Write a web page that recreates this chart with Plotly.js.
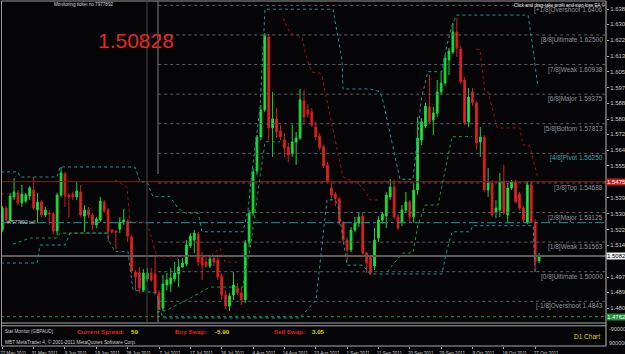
<!DOCTYPE html>
<html>
<head>
<meta charset="utf-8">
<script src="https://cdn.plot.ly/plotly-3.0.1.min.js"></script>
<style>
html,body{margin:0;padding:0;background:#050507;overflow:hidden;}
#chart{width:625px;height:354px;}
</style>
</head>
<body>
<div id="chart"></div>
<script>
// ---------------- DATA ----------------
const dateLabels = ['22 May 2011','31 May 2011','9 Jun 2011','19 Jun 2011','28 Jun 2011','7 Jul 2011','17 Jul 2011','26 Jul 2011','4 Aug 2011','14 Aug 2011','23 Aug 2011','1 Sep 2011','11 Sep 2011','20 Sep 2011','29 Sep 2011','9 Oct 2011','18 Oct 2011','27 Oct 2011'];
const barsPerLabel = 8;

const opens = [1.5220,1.5336,1.5273,1.5395,1.5416,1.5363,1.5373,1.5400,1.5431,1.5326,
1.5368,1.5299,1.5310,1.5305,1.5215,1.5405,1.5516,1.5405,1.5410,1.5395,
1.5421,1.5294,1.5326,1.5299,1.5247,1.5273,1.5368,1.5326,1.5220,1.5215,
1.5225,1.5262,1.5268,1.5183,1.4998,1.4993,1.4903,1.4962,1.4993,1.4988,
1.4888,1.4808,1.4930,1.4935,1.4962,1.4988,1.5025,1.5041,1.5136,1.5167,
1.5199,1.5078,1.5051,1.5030,1.5072,1.5062,1.4977,1.4877,1.4819,1.4877,
1.4914,1.4888,1.4851,1.5152,1.5310,1.5532,1.5711,1.5854,1.6239,1.5759,
1.5806,1.5743,1.5695,1.5659,1.5622,1.5685,1.5706,1.5901,1.5854,1.5843,
1.5764,1.5716,1.5659,1.5564,1.5442,1.5410,1.5384,1.5257,1.5167,1.5115,
1.5220,1.5257,1.5294,1.5099,1.5078,1.5030,1.5178,1.5273,1.5294,1.5395,
1.5447,1.5289,1.5262,1.5326,1.5368,1.5289,1.5431,1.5695,1.5769,1.5870,
1.5801,1.5838,1.5949,1.5996,1.6118,1.6160,1.6266,1.6176,1.6012,1.5791,
1.5949,1.5891,1.5685,1.5711,1.5431,1.5468,1.5315,1.5326,1.5479,1.5299,
1.5442,1.5474,1.5410,1.5336,1.5262,1.5458,1.5262,1.5057];
const highs = [1.5347,1.5347,1.5416,1.5495,1.5431,1.5458,1.5416,1.5453,1.5500,1.5416,
1.5379,1.5342,1.5326,1.5315,1.5416,1.5553,1.5527,1.5416,1.5421,1.5474,
1.5458,1.5352,1.5342,1.5310,1.5289,1.5395,1.5379,1.5336,1.5225,1.5220,
1.5289,1.5331,1.5278,1.5194,1.5009,1.5025,1.5014,1.5020,1.5020,1.5078,
1.4903,1.4983,1.4993,1.5020,1.5051,1.5067,1.5072,1.5167,1.5204,1.5220,
1.5210,1.5104,1.5083,1.5078,1.5088,1.5078,1.4993,1.4903,1.4888,1.4998,
1.4940,1.4919,1.5167,1.5326,1.5548,1.5722,1.5880,1.6260,1.6255,1.5949,
1.5864,1.5775,1.5732,1.5680,1.5775,1.5738,1.5965,1.5959,1.5885,1.5864,
1.5791,1.5732,1.5669,1.5579,1.5474,1.5421,1.5395,1.5268,1.5183,1.5236,
1.5289,1.5315,1.5310,1.5104,1.5088,1.5231,1.5294,1.5315,1.5421,1.5490,
1.5484,1.5305,1.5352,1.5421,1.5379,1.5468,1.5817,1.5812,1.5891,1.6039,
1.5870,1.6012,1.6054,1.6144,1.6181,1.6313,1.6340,1.6192,1.6028,1.5970,
1.5970,1.5901,1.5764,1.5722,1.5548,1.5484,1.5379,1.5521,1.5564,1.5468,
1.5484,1.5484,1.5421,1.5347,1.5474,1.5474,1.5278,1.5099];
const lows = [1.5210,1.5262,1.5257,1.5379,1.5352,1.5342,1.5363,1.5379,1.5326,1.5257,
1.5289,1.5289,1.5247,1.5199,1.5194,1.5395,1.5342,1.5284,1.5379,1.5379,
1.5289,1.5210,1.5284,1.5220,1.5231,1.5262,1.5310,1.5157,1.5204,1.5120,
1.5204,1.5247,1.5157,1.4988,1.4903,1.4888,1.4893,1.4946,1.4946,1.4877,
1.4798,1.4793,1.4903,1.4893,1.4946,1.4919,1.5020,1.5030,1.5125,1.5099,
1.5030,1.4956,1.5020,1.5020,1.5030,1.4956,1.4851,1.4803,1.4793,1.4851,
1.4877,1.4824,1.4835,1.5130,1.5294,1.5511,1.5695,1.5843,1.5695,1.5606,
1.5706,1.5695,1.5606,1.5579,1.5606,1.5564,1.5695,1.5775,1.5812,1.5764,
1.5695,1.5643,1.5548,1.5468,1.5379,1.5347,1.5247,1.5157,1.5046,1.5104,
1.5210,1.5236,1.5088,1.4993,1.4983,1.5009,1.5157,1.5252,1.5231,1.5379,
1.5278,1.5220,1.5241,1.5310,1.5257,1.5257,1.5405,1.5669,1.5759,1.5785,
1.5722,1.5817,1.5933,1.5981,1.6039,1.6149,1.6134,1.5991,1.5775,1.5764,
1.5875,1.5643,1.5606,1.5421,1.5395,1.5289,1.5284,1.5289,1.5299,1.5257,
1.5431,1.5363,1.5326,1.5262,1.5252,1.5257,1.4998,1.5046];
const closes = [1.5336,1.5273,1.5400,1.5421,1.5363,1.5410,1.5405,1.5442,1.5336,1.5368,
1.5299,1.5326,1.5305,1.5215,1.5405,1.5521,1.5400,1.5395,1.5395,1.5426,
1.5299,1.5326,1.5299,1.5247,1.5278,1.5373,1.5321,1.5215,1.5210,1.5210,
1.5262,1.5273,1.5188,1.5004,1.4972,1.4914,1.4993,1.4993,1.4956,1.4888,
1.4808,1.4935,1.4956,1.4967,1.4993,1.5025,1.5046,1.5141,1.5188,1.5204,
1.5051,1.5035,1.5030,1.5067,1.5051,1.4972,1.4877,1.4819,1.4872,1.4930,
1.4888,1.4851,1.5152,1.5310,1.5527,1.5711,1.5854,1.6245,1.5759,1.5806,
1.5738,1.5711,1.5653,1.5616,1.5685,1.5706,1.5907,1.5817,1.5833,1.5775,
1.5711,1.5653,1.5558,1.5474,1.5405,1.5384,1.5257,1.5167,1.5115,1.5220,
1.5257,1.5289,1.5099,1.5046,1.4993,1.5167,1.5273,1.5305,1.5405,1.5447,
1.5289,1.5231,1.5326,1.5368,1.5289,1.5431,1.5706,1.5791,1.5875,1.5791,
1.5838,1.5949,1.5996,1.6128,1.6165,1.6266,1.6181,1.6002,1.5785,1.5922,
1.5891,1.5680,1.5711,1.5431,1.5468,1.5299,1.5336,1.5474,1.5310,1.5442,
1.5474,1.5368,1.5336,1.5273,1.5458,1.5262,1.5051,1.50828];

const currentPrice = 1.50828;
const sellOpenPrice = 1.52588;
const redLevel = 1.54752;
const greenLevel = 1.47624;

// Murrey math levels
const murreyLevels = [1.640625,1.625,1.609375,1.59375,1.578125,1.5625,1.546875,1.53125,1.515625,1.5,1.484375];
const murreyLabels = ['[+1/8]Overshoot 1.6406','[8/8]Ultimate 1.62500','[7/8]Weak 1.60938','[6/8]Major 1.59375','[5/8]Bottom 1.57813','[4/8]Pivot 1.56250','[3/8]Top 1.54688','[2/8]Major 1.53125','[1/8]Weak 1.51563','[0/8]Ultimate 1.50000','[-1/8]Overshoot 1.4843'];
const murreyStartBar = 39.8;

// price scale labels
const priceTicks = [1.63860,1.63060,1.62230,1.61380,1.60550,1.59730,1.58890,1.58060,1.57250,1.56410,1.55590,1.53910,1.53060,1.52230,1.51410,1.49720,1.48910,1.48080];

// indicator lines (bar index, price); null breaks a line
const upperBandX = [-0.33,4.01,4.52,13.96,14.73,33.87,35.15,36.93,38.46,42.8,44.84,46.63,49.95,50.97,61.43,62.71,63.73,64.75,65.77,66.79,67.05,84.4,86.7,86.95,93.85,96.4,97.17,101.5,104.8,105.8,106.9,108.6,112.2,113.5,114.8,116.0,134.2,135.5,136.7];
const upperBandY = [1.5527,1.5527,1.5500,1.5500,1.5553,1.5553,1.5475,1.5474,1.5396,1.5396,1.5336,1.5310,1.5310,1.5211,1.5211,1.5326,1.5527,1.5695,1.5864,1.6276,1.6386,1.6386,1.6118,1.5965,1.5965,1.5950,1.5901,1.5488,1.5488,1.5669,1.5907,1.6056,1.6056,1.6197,1.6303,1.6355,1.6355,1.6171,1.5975];
const lowerBandX = [-0.33,8.86,9.62,16.0,17.28,26.72,27.49,28.76,32.08,33.36,39.48,40.25,41.02,75.98,80.07,82.87,84.9,85.68,87.98,91.81,93.08,93.85,112.2,113.5,114.8,119.4,120.1,135.5,136.0,137.0];
const lowerBandY = [1.5046,1.5046,1.5141,1.5141,1.5204,1.5204,1.5152,1.5106,1.5106,1.4903,1.4888,1.4798,1.4756,1.4756,1.4851,1.5379,1.5379,1.5352,1.5035,1.5035,1.5009,1.4988,1.4988,1.5115,1.5211,1.5211,1.5243,1.5243,1.5000,1.5000];
const redStopX = [-0.33,1.45,null,28.76,31.83,32.59,36.93,39.48,53.01,55.56,56.84,60.67,null,71.64,73.43,76.49,77.77,79.04,81.09,81.6,86.95,90.53,92.06,93.85,96.4,null,120.9,121.9,123.2,124.0,126.3,132.1,132.9,134.7,135.5,136.7];
const redStopY = [1.5410,1.5410,null,1.5484,1.5447,1.5264,1.5261,1.5079,1.5079,1.5125,1.5051,1.5051,null,1.6340,1.6260,1.6239,1.6118,1.6054,1.6049,1.6030,1.5500,1.5468,1.5442,1.5379,1.5379,null,1.6176,1.6171,1.5949,1.5949,1.5759,1.5759,1.5669,1.5664,1.5590,1.5495];
const greenStopX = [2.73,5.79,7.07,13.96,14.73,27.99,null,39.48,41.53,47.14,53.01,61.43,62.0,63.22,65.26,67.05,70.88,null,98.19,100.2,102.3,104.8,106.1,107.9,111.2,113.0,114.8,119.9];
const greenStopY = [1.5146,1.5167,1.5178,1.5178,1.5204,1.5204,null,1.4787,1.4793,1.4851,1.4919,1.4919,1.5009,1.5115,1.5431,1.5686,1.5686,null,1.4998,1.5051,1.5099,1.5099,1.5247,1.5352,1.5352,1.5537,1.5713,1.5713];

const separatorBars = [36.93, 39.74];

// ---------------- LAYOUT HELPERS ----------------
const W = 625, H = 354;
const M = {l:1, r:19, t:1, b:8};
const PW = W - M.l - M.r, PH = H - M.t - M.b;
const fx = px => (px - M.l) / PW;
const fy = py => (H - M.b - py) / PH;
const xRange = [-0.33, 154.08];
const yRange = [1.47318, 1.64293];
const FONT = 'Liberation Sans, Arial, sans-serif';

const barIndex = opens.map((_, i) => i);
const tickBars = dateLabels.map((_, k) => k * barsPerLabel);

function hline(val, color, dash, width, x0) {
  return {type:'scatter', mode:'lines', x:[x0 === undefined ? xRange[0] : x0, xRange[1]], y:[val, val],
    line:{color:color, dash:dash, width:width}, hoverinfo:'skip', xaxis:'x', yaxis:'y'};
}

const traces = [];
// murrey dotted lines
const mx = [], my = [];
murreyLevels.forEach(v => { mx.push(murreyStartBar, xRange[1], null); my.push(v, v, null); });
traces.push({type:'scatter', mode:'lines', x:mx, y:my, line:{color:'#5d6166', dash:'dot', width:1}, hoverinfo:'skip', xaxis:'x', yaxis:'y'});
// order / level lines
traces.push(hline(redLevel, '#8e1c1c', 'solid', 1));
traces.push(hline(sellOpenPrice, '#1c9a9a', 'dashdot', 1));
traces.push(hline(greenLevel, '#1b9a47', 'dot', 1));
traces.push(hline(currentPrice, '#5c5c5c', 'solid', 2));
// indicator lines
traces.push({type:'scatter', mode:'lines', x:upperBandX, y:upperBandY, line:{color:'#1a9696', dash:'dot', width:1}, hoverinfo:'skip', xaxis:'x', yaxis:'y'});
traces.push({type:'scatter', mode:'lines', x:lowerBandX, y:lowerBandY, line:{color:'#1a9696', dash:'dot', width:1}, hoverinfo:'skip', xaxis:'x', yaxis:'y'});
traces.push({type:'scatter', mode:'lines', x:redStopX, y:redStopY, line:{color:'#9a1414', dash:'dot', width:1}, hoverinfo:'skip', connectgaps:false, xaxis:'x', yaxis:'y'});
traces.push({type:'scatter', mode:'lines', x:greenStopX, y:greenStopY, line:{color:'#179a3c', dash:'dot', width:1}, hoverinfo:'skip', connectgaps:false, xaxis:'x', yaxis:'y'});
// candles
traces.push({type:'candlestick', x:barIndex, open:opens, high:highs, low:lows, close:closes,
  increasing:{line:{color:'#14d83a', width:1}, fillcolor:'#1ee844'},
  decreasing:{line:{color:'#d41c1c', width:1}, fillcolor:'#e82323'},
  whiskerwidth:0, hoverinfo:'skip', xaxis:'x', yaxis:'y'});
// dummy trace for panel axis
traces.push({type:'scatter', mode:'lines', x:[xRange[0]], y:[0], line:{width:0}, hoverinfo:'skip', xaxis:'x', yaxis:'y2'});

const ann = [];
function txt(text, px, py, size, color, anchor, extra) {
  ann.push(Object.assign({xref:'paper', yref:'paper', x:fx(px), y:fy(py), text:text, showarrow:false,
    xanchor:anchor || 'left', yanchor:'middle', font:{family:FONT, size:size, color:color}}, extra || {}));
}
txt('Monitoring ticket no 7977892', 52, 4.5, 4.6, '#d4d4d4');
txt('Click and drag take profit and stop loss EA ©', 512, 5, 4.6, '#e6e6e6');
txt(currentPrice.toFixed(5), 136, 40, 21, '#ea2626', 'center');
txt('#7977892 sell', 5, 222.5, 4.6, '#cfcfcf');
murreyLevels.forEach((v, i) => {
  ann.push({xref:'paper', yref:'y', x:fx(605), y:v, yshift:-5, text:murreyLabels[i], showarrow:false,
    xanchor:'right', yanchor:'middle', font:{family:FONT, size:6.5, color: i === 5 ? '#35a9a9' : '#8e9399'}});
});
// price boxes on scale
function box(val, text, bg, fg) {
  ann.push({xref:'paper', yref:'y', x:fx(606), y:val, text:text, showarrow:false, xanchor:'left', yanchor:'middle',
    bgcolor:bg, borderpad:0, font:{family:FONT, size:6, color:fg}});
}
box(redLevel, redLevel.toFixed(5), '#c81e1e', '#ffffff');
box(currentPrice, currentPrice.toFixed(5), '#f0f0f0', '#000000');
box(greenLevel, greenLevel.toFixed(5), '#1f8f35', '#ffffff');
// bottom panel
txt('Stat Monitor (GBPAUD)', 3, 331.5, 4.6, '#d0d0d0');
txt('<b>Current Spread:</b>', 75, 331.5, 6.2, '#e0201c');
txt('<b>59</b>', 129, 331.5, 6.2, '#d8d800');
txt('<b>Buy Swap:</b>', 173, 331.5, 6.2, '#e0201c');
txt('<b>-5.90</b>', 213, 331.5, 6.2, '#d8d800');
txt('<b>Sell Swap:</b>', 272, 331.5, 6.2, '#e0201c');
txt('<b>3.05</b>', 310, 331.5, 6.2, '#d8d800');
txt('MBT MetaTrader 4, © 2001-2011 MetaQuotes Software Corp.', 3, 342, 4.8, '#d0d0d0');
txt('D1 Chart', 572, 336.7, 6.5, '#d6d600');
txt('-9000000', 607, 329.3, 5.5, '#c8c8c8');
txt('9000000', 607, 342.7, 5.5, '#c8c8c8');

const shapes = [];
function pline(x0, y0, x1, y1, color, width) {
  shapes.push({type:'line', xref:'paper', yref:'paper', x0:fx(x0), y0:fy(y0), x1:fx(x1), y1:fy(y1), line:{color:color, width:width || 1}});
}
pline(1, 1, 606, 1, '#9a9a9a');
pline(1.5, 1, 1.5, 346, '#9a9a9a');
pline(606, 1, 606, 346, '#b8b8b8');
pline(1, 323, 606, 323, '#a8a8a8');
pline(1, 325.8, 606, 325.8, '#a8a8a8');
pline(1, 346, 606, 346, '#a8a8a8');
// period separators
shapes.push({type:'line', xref:'x', yref:'paper', x0:separatorBars[0], x1:separatorBars[0], y0:fy(322), y1:fy(1), line:{color:'#474747', width:1}});
shapes.push({type:'line', xref:'x', yref:'paper', x0:separatorBars[1], x1:separatorBars[1], y0:fy(174), y1:fy(1), line:{color:'#7e7e7e', width:1}});
shapes.push({type:'line', xref:'x', yref:'paper', x0:separatorBars[1], x1:separatorBars[1], y0:fy(322), y1:fy(298), line:{color:'#7e7e7e', width:1}});

const layout = {
  width:W, height:H, margin:M, paper_bgcolor:'#050507', plot_bgcolor:'#050507',
  showlegend:false, hovermode:false, dragmode:false,
  xaxis:{range:xRange, anchor:'y2', tickvals:tickBars, ticktext:dateLabels, tickfont:{family:FONT, size:4.6, color:'#c8c8c8'},
    ticks:'outside', ticklen:2, tickcolor:'#a8a8a8', ticklabelshift:11, showgrid:false, zeroline:false, showline:false,
    rangeslider:{visible:false}, fixedrange:true},
  yaxis:{domain:[fy(322.5), 1], range:yRange, side:'right', tickvals:priceTicks, ticktext:priceTicks.map(v => v.toFixed(5)),
    tickfont:{family:FONT, size:6, color:'#c8c8c8'}, ticks:'outside', ticklen:2, tickcolor:'#a8a8a8',
    showgrid:false, zeroline:false, showline:false, fixedrange:true},
  yaxis2:{domain:[0, fy(326)], range:[0,1], visible:false, fixedrange:true},
  boxgap:0.35,
  annotations:ann, shapes:shapes
};
Plotly.newPlot('chart', traces, layout, {displayModeBar:false, staticPlot:true});
</script>
</body>
</html>
